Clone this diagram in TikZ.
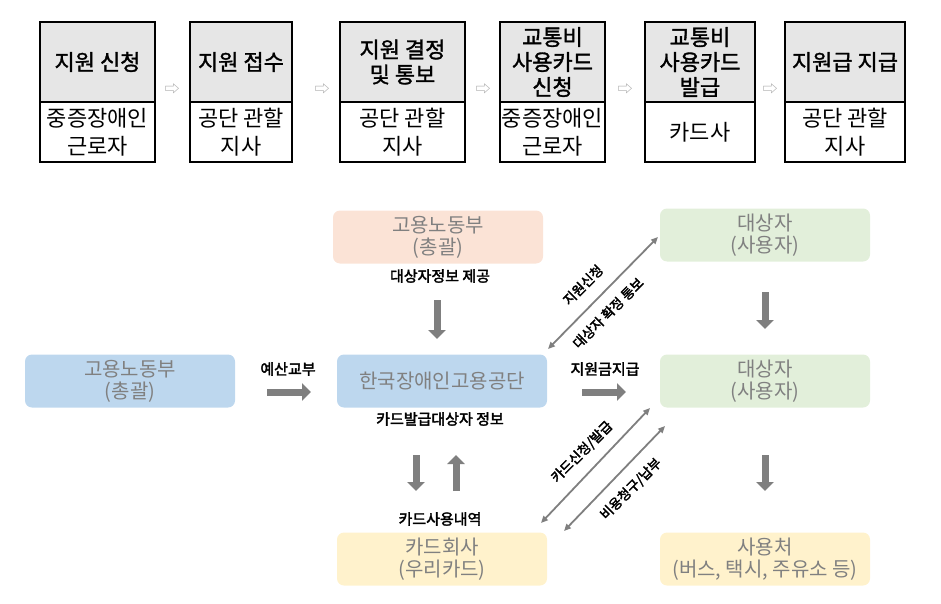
\documentclass[tikz,border=0pt]{standalone}
\usepackage{fontspec}
\setmainfont{Noto Sans CJK KR}
\newfontfamily\bfk[FakeBold=2.5]{Noto Sans CJK KR}
\newfontfamily\mbk[FakeBold=1.5]{Noto Sans CJK KR}
\usetikzlibrary{arrows.meta}
\definecolor{peach}{HTML}{FBE3D6}
\definecolor{grn}{HTML}{E2EFDA}
\definecolor{blu}{HTML}{BDD7EE}
\definecolor{yel}{HTML}{FFF2CC}
\definecolor{hdr}{HTML}{E6E6E6}
\definecolor{tg}{HTML}{808080}
\definecolor{ag}{HTML}{7F7F7F}
\begin{document}
\begin{tikzpicture}[x=1pt,y=-1pt,
  hd/.style={draw=black,line width=1.2pt,fill=hdr,font=\mbk\fontsize{22}{25}\selectfont,align=center,inner sep=0},
  bd/.style={draw=black,line width=1.2pt,fill=white,font=\fontsize{22}{28}\selectfont,align=center,inner sep=0},
  sa/.style={font=\fontsize{15}{15}\selectfont,text=gray!70},
  rb/.style={rounded corners=7pt,minimum width=210pt,minimum height=53pt,text=tg,font=\fontsize{20}{22}\selectfont,align=center,inner sep=0},
  lb/.style={font=\bfk\fontsize{15}{17}\selectfont,inner sep=1pt},
  dl/.style={font=\bfk\fontsize{13.5}{15}\selectfont,inner sep=0pt,rotate=45},
  blk/.style={draw=ag,line width=7pt,-{Triangle[length=9pt,width=17pt]}},
  dbl/.style={draw=ag,line width=1.8pt,{Triangle[length=7pt,width=6pt]}-{Triangle[length=7pt,width=6pt]}}]
\useasboundingbox (0,0) rectangle (941,604);
% top row
\foreach \n/\a/\b/\h/\t in {
 1/40/155/{지원 신청}/{중증장애인\\근로자},
 2/190/292/{지원 접수}/{공단 관할\\지사},
 3/340/465/{지원 결정\\및 통보}/{공단 관할\\지사},
 4/500/605/{교통비\\사용카드\\신청}/{중증장애인\\근로자},
 5/645/755/{교통비\\사용카드\\발급}/{카드사},
 6/785/905/{지원급 지급}/{공단 관할\\지사}}{
 \node[hd,minimum width=\b-\a,minimum height=80] (h\n) at ({(\a+\b)/2},62) {\h};
 \node[bd,minimum width=\b-\a,minimum height=60] (t\n) at ({(\a+\b)/2},132) {\t};
}
\foreach \x in {172,322,483,625,770}{\node[sa] at (\x,89) {⇨};}
% bottom
\node[rb,fill=peach] (mol1) at (438,237) {고용노동부\\(총괄)};
\node[rb,fill=grn] (tg1) at (765,235) {대상자\\(사용자)};
\node[rb,fill=blu] (mol2) at (130,381) {고용노동부\\(총괄)};
\node[rb,fill=blu] (kead) at (442,381) {한국장애인고용공단};
\node[rb,fill=grn] (tg2) at (765,381) {대상자\\(사용자)};
\node[rb,fill=yel] (card) at (442,559) {카드회사\\(우리카드)};
\node[rb,fill=yel] (use) at (765,559) {사용처\\(버스, 택시, 주유소 등)};
\node[lb] at (440,276) {대상자정보 제공};
\node[lb] at (288,369) {예산교부};
\node[lb] at (605,369) {지원금지급};
\node[lb] at (440,419) {카드발급대상자 정보};
\node[lb] at (440,519) {카드사용내역};
\coordinate (a1) at (437,300); \coordinate (a2) at (437,339);
\draw[blk] (a1) -- (a2);
\coordinate (b1) at (267,392); \coordinate (b2) at (311,392);
\draw[blk] (b1) -- (b2);
\coordinate (c1) at (582,392); \coordinate (c2) at (626,392);
\draw[blk] (c1) -- (c2);
\coordinate (d1) at (416,455); \coordinate (d2) at (416,491);
\draw[blk] (d1) -- (d2);
\coordinate (e1) at (456,491); \coordinate (e2) at (456,455);
\draw[blk] (e1) -- (e2);
\coordinate (f1) at (765,292); \coordinate (f2) at (765,329);
\draw[blk] (f1) -- (f2);
\coordinate (g1) at (765,455); \coordinate (g2) at (765,491);
\draw[blk] (g1) -- (g2);
\coordinate (p1) at (548,349); \coordinate (p2) at (658,237);
\draw[dbl] (p1) -- (p2);
\coordinate (q1) at (541,523); \coordinate (q2) at (650,408);
\draw[dbl] (q1) -- (q2);
\coordinate (r1) at (564,531); \coordinate (r2) at (665,426);
\draw[dbl] (r1) -- (r2);
\node[dl] at (583,285) {지원신청};
\node[dl] at (608,313) {대상자 확정 통보};
\node[dl] at (582,452) {카드신청/발급};
\node[dl] at (631,489) {비용청구/납부};
\end{tikzpicture}
\end{document}
